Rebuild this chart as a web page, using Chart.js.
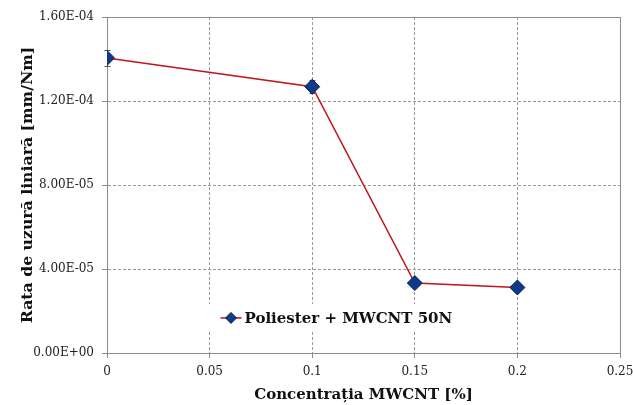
<!DOCTYPE html>
<html>
<head>
<meta charset="utf-8">
<script src="https://cdn.jsdelivr.net/npm/chart.js@4.4.1/dist/chart.umd.min.js"></script>
<style>
  html, body { margin: 0; padding: 0; background: #fff; }
  #wrap { width: 633px; height: 405px; position: relative; }
</style>
</head>
<body>
<div id="wrap"><canvas id="c" width="633" height="405"></canvas></div>
<script>
// MWCNT concentration [%] and measured linear wear rate [mm/Nm]
const concentration = [0, 0.1, 0.15, 0.2];
const wearRate = [1.405e-4, 1.268e-4, 3.33e-5, 3.12e-5];
const wearError = [4.0e-6, 3.0e-6, 0, 0];
const seriesLabel = 'Poliester + MWCNT 50N';
const xTitle = 'Concentrația MWCNT [%]';
const yTitle = 'Rata de uzură liniară [mm/Nm]';
const xTicks = [0, 0.05, 0.1, 0.15, 0.2, 0.25];
const yTicks = [0, 4e-5, 8e-5, 1.2e-4, 1.6e-4];

const serif = '"DejaVu Serif", "Liberation Serif", serif';
const frameColor = '#8c8c8c';

function sciLabel(v) {
  if (v === 0) return '0.00E+00';
  const [m, e] = v.toExponential(2).split('e');
  const n = parseInt(e, 10);
  const sign = n < 0 ? '-' : '+';
  return m + 'E' + sign + String(Math.abs(n)).padStart(2, '0');
}

// Solid frame around the plot area, under the data
const plotFrame = {
  id: 'plotFrame',
  beforeDatasetsDraw(chart) {
    const { ctx, chartArea: a } = chart;
    ctx.save();
    ctx.strokeStyle = frameColor;
    ctx.lineWidth = 1;
    ctx.setLineDash([]);
    ctx.strokeRect(Math.round(a.left) + 0.5, Math.round(a.top) + 0.5,
                   Math.round(a.right - a.left), Math.round(a.bottom - a.top));
    ctx.restore();
  }
};

// Vertical error bars drawn through the y scale
const errorBars = {
  id: 'errorBars',
  beforeDatasetsDraw(chart) {
    const { ctx, scales: { x, y } } = chart;
    ctx.save();
    ctx.strokeStyle = '#555';
    ctx.lineWidth = 1;
    concentration.forEach((c, i) => {
      const e = wearError[i];
      if (!e) return;
      const px = Math.round(x.getPixelForValue(c)) + 0.5;
      const top = Math.round(y.getPixelForValue(wearRate[i] + e)) + 0.5;
      const bot = Math.round(y.getPixelForValue(wearRate[i] - e)) + 0.5;
      ctx.beginPath();
      ctx.moveTo(px, top); ctx.lineTo(px, bot);
      ctx.moveTo(px - 3, top); ctx.lineTo(px + 3, top);
      ctx.moveTo(px - 3, bot); ctx.lineTo(px + 3, bot);
      ctx.stroke();
    });
    ctx.restore();
  }
};

// Legend box placed inside the plot area
const innerLegend = {
  id: 'innerLegend',
  afterDraw(chart) {
    const { ctx, scales: { x, y } } = chart;
    const ds = chart.data.datasets[0];
    const left = x.getPixelForValue(0.0524);
    const cy = y.getPixelForValue(1.67e-5);
    ctx.save();
    ctx.font = 'bold 15px ' + serif;
    const tw = ctx.measureText(ds.label).width;
    ctx.fillStyle = '#fff';
    ctx.fillRect(left - 12, cy - 14, tw + 54, 28);
    ctx.strokeStyle = ds.borderColor;
    ctx.lineWidth = 1.5;
    ctx.beginPath();
    ctx.moveTo(left + 6, cy); ctx.lineTo(left + 27, cy);
    ctx.stroke();
    const mx = left + 16.5, r = 5.5;
    ctx.beginPath();
    ctx.moveTo(mx, cy - r); ctx.lineTo(mx + r, cy); ctx.lineTo(mx, cy + r); ctx.lineTo(mx - r, cy);
    ctx.closePath();
    ctx.fillStyle = ds.pointBackgroundColor;
    ctx.fill();
    ctx.strokeStyle = ds.pointBorderColor;
    ctx.lineWidth = 1;
    ctx.stroke();
    ctx.fillStyle = '#111';
    ctx.textBaseline = 'middle';
    ctx.fillText(ds.label, left + 30, cy + 1);
    ctx.restore();
  }
};

new Chart(document.getElementById('c'), {
  type: 'line',
  data: {
    datasets: [{
      label: seriesLabel,
      data: concentration.map((c, i) => ({ x: c, y: wearRate[i] })),
      borderColor: '#C0141C',
      borderWidth: 1.5,
      pointStyle: 'rectRot',
      pointRadius: 7.5,
      pointHoverRadius: 7.5,
      pointBackgroundColor: '#0E3A8C',
      pointBorderColor: '#0A1F4D',
      pointBorderWidth: 1,
      tension: 0
    }]
  },
  plugins: [plotFrame, errorBars, innerLegend],
  options: {
    responsive: false,
    animation: false,
    layout: { padding: { top: 17, right: 13, left: 0, bottom: 0 } },
    plugins: { legend: { display: false }, tooltip: { enabled: false } },
    scales: {
      x: {
        type: 'linear',
        min: 0, max: 0.25,
        afterBuildTicks(scale) { scale.ticks = xTicks.map(v => ({ value: v })); },
        afterFit(scale) {
          scale.height = 52;
          scale.paddingLeft = 0;
          scale.paddingRight = 0;
        },
        ticks: {
          callback: v => String(v),
          font: { family: serif, size: 12 },
          color: '#222',
          padding: 7,
          maxRotation: 0
        },
        grid: { color: '#9a9a9a', tickLength: 5, tickColor: frameColor },
        border: { display: true, color: frameColor, width: 1, dash: [3, 2] },
        title: {
          display: true, text: xTitle,
          font: { family: serif, size: 15, weight: 'bold' },
          color: '#111',
          padding: { top: 0, bottom: 1 }
        }
      },
      y: {
        min: 0, max: 1.6e-4,
        afterBuildTicks(scale) { scale.ticks = yTicks.map(v => ({ value: v })); },
        afterFit(scale) {
          scale.width = 107;
          scale.paddingTop = 0;
          scale.paddingBottom = 0;
        },
        ticks: {
          callback: v => sciLabel(v),
          font: { family: serif, size: 12 },
          color: '#222',
          padding: 8
        },
        grid: { color: '#9a9a9a', tickLength: 5, tickColor: frameColor },
        border: { display: true, color: frameColor, width: 1, dash: [3, 2] },
        title: {
          display: true, text: yTitle,
          font: { family: serif, size: 15.7, weight: 'bold' },
          color: '#111',
          padding: { top: 19, bottom: 0 }
        }
      }
    }
  },
});
</script>
</body>
</html>
